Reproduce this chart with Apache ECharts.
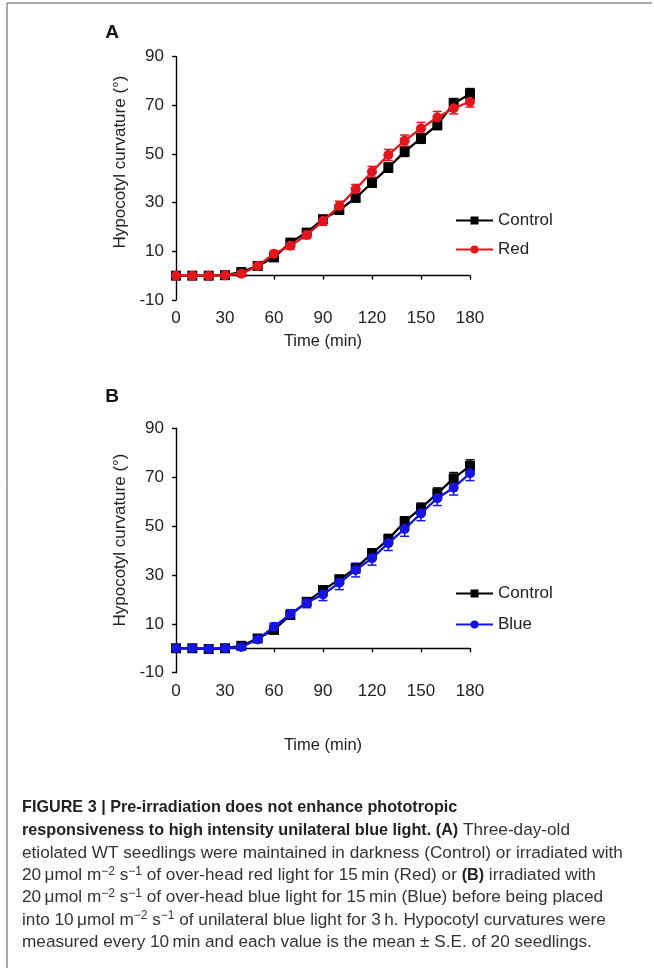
<!DOCTYPE html>
<html><head><meta charset="utf-8">
<script src="https://cdn.jsdelivr.net/npm/echarts@6/dist/echarts.min.js"></script>
<style>html,body{margin:0;padding:0;background:#fff}#c{width:654px;height:968px}</style>
</head><body><div id="c"></div>
<script>
const times = [0,10,20,30,40,50,60,70,80,90,100,110,120,130,140,150,160,170,180];
const xTicks = [0,30,60,90,120,150,180];
const yTicks = [-10,10,30,50,70,90];
// Panel A
const controlA = [0,0,0,0.2,1.5,4,7.5,13.6,17.7,23.2,27,32,38.2,44.4,51,56.4,62,70.8,74.7];
const controlAErr = [0.3,0.3,0.3,0.4,0.6,0.8,1,1.2,1.3,1.5,1.5,1.6,1.8,1.9,2,2,2,2,2.2];
const redA = [0,0,0,0.2,0.8,4,9,12.3,16.7,22.5,28.6,35.5,42.7,49.6,55.5,60.5,65,68.8,71.5];
const redAErr = [0.3,0.3,0.3,0.4,0.6,0.8,1.2,1.5,1.5,1.8,2,2,2.2,2.3,2.3,2.5,2.5,2.3,2.2];
// Panel B
const controlB = [0,0,-0.3,0,1,4,7.5,13.6,19,23.8,28.2,32.7,38.8,44.6,51.8,57.3,63.4,69.5,74.6];
const controlBErr = [0.3,0.3,0.3,0.4,0.6,0.8,1,1.3,1.4,1.6,1.7,1.8,1.9,2,2,2.1,2.2,2.4,2.5];
const blueB = [0,0,-0.3,0,0.5,3.6,8.8,14,18.6,22,26.8,32,36.8,43,48.8,55.2,61.4,65.7,71.6];
const blueBErr = [0.3,0.3,0.3,0.4,0.6,1,1.5,1.8,2,2.5,2.8,2.8,2.8,3,3,3,3,3,3];

const FONT = 'Liberation Sans, Arial, sans-serif';
const TXT = '#222';

function pairs(vals){ return times.map((t,i)=>[t, vals[i]]); }
function errData(vals, errs){ return times.map((t,i)=>[t, vals[i]-errs[i], vals[i]+errs[i]]); }

function errSeries(idx, vals, errs, color){
  return {
    type:'custom', xAxisIndex:idx, yAxisIndex:idx, silent:true, z:2,
    data: errData(vals, errs),
    renderItem: function(params, api){
      const lo = api.coord([api.value(0), api.value(1)]);
      const hi = api.coord([api.value(0), api.value(2)]);
      const w = 4.5;
      const st = {stroke: color, lineWidth: 1.5};
      return {type:'group', children:[
        {type:'line', shape:{x1:lo[0],y1:lo[1],x2:hi[0],y2:hi[1]}, style:st},
        {type:'line', shape:{x1:lo[0]-w,y1:lo[1],x2:lo[0]+w,y2:lo[1]}, style:st},
        {type:'line', shape:{x1:hi[0]-w,y1:hi[1],x2:hi[0]+w,y2:hi[1]}, style:st}
      ]};
    }
  };
}
function lineSeries(idx, name, vals, color, symbol, z){
  return {
    type:'line', name:name, xAxisIndex:idx, yAxisIndex:idx, data:pairs(vals),
    symbol:symbol, symbolSize:10, showSymbol:true, z:z,
    lineStyle:{color:color, width:2.3}, itemStyle:{color:color}, animation:false
  };
}

function xAxis(idx){
  return {type:'value', gridIndex:idx, min:0, max:180, interval:30,
    axisLine:{lineStyle:{color:'#000', width:1.4}},
    axisTick:{show:true, length:4, inside:false, lineStyle:{color:'#000', width:1.4}},
    axisLabel:{color:TXT, fontSize:17, fontFamily:FONT, margin:10},
    splitLine:{show:false}};
}
function yAxis(idx){
  return {type:'value', gridIndex:idx, min:-10, max:90, interval:20,
    axisLine:{show:true, lineStyle:{color:'#000', width:1.4}},
    axisTick:{show:true, length:4, inside:false, lineStyle:{color:'#000', width:1.4}},
    axisLabel:{color:TXT, fontSize:17, fontFamily:FONT, margin:12},
    splitLine:{show:false}};
}

const captionLines = [
  '{b|FIGURE 3 | Pre-irradiation does not enhance phototropic}',
  '{b|responsiveness to high intensity unilateral blue light. (A)}{n| Three-day-old}',
  '{n|etiolated WT seedlings were maintained in darkness (Control) or irradiated with}',
  '{n|20\u2009μmol m}{s|\u22122}{n| s}{s|\u22121}{n| of over-head red light for 15\u2009min (Red) or }{b|(B)}{n| irradiated with}',
  '{n|20\u2009μmol m}{s|\u22122}{n| s}{s|\u22121}{n| of over-head blue light for 15\u2009min (Blue) before being placed}',
  '{n|into 10\u2009μmol m}{s|\u22122}{n| s}{s|\u22121}{n| of unilateral blue light for 3\u2009h. Hypocotyl curvatures were}',
  '{n|measured every 10\u2009min and each value is the mean ± S.E. of 20 seedlings.}'
];
const rich = {
  b:{fontWeight:'bold', fontSize:16.2, fontFamily:FONT, fill:'#222', lineHeight:20},
  n:{fontSize:17.2, fontFamily:FONT, fill:'#333', lineHeight:20},
  s:{fontSize:12, fontFamily:FONT, fill:'#333', lineHeight:20, verticalAlign:'top'}
};

const graphics = [
  {type:'line', shape:{x1:7,y1:3,x2:652,y2:3}, style:{stroke:'#555', lineWidth:1}},
  {type:'line', shape:{x1:7,y1:3,x2:7,y2:968}, style:{stroke:'#555', lineWidth:1}},
  {type:'text', x:112, y:33, style:{text:'A', font:'bold 19px '+FONT, fill:'#111', align:'center', verticalAlign:'middle'}},
  {type:'text', x:112, y:397, style:{text:'B', font:'bold 19px '+FONT, fill:'#111', align:'center', verticalAlign:'middle'}},
  {type:'text', x:120, y:162, rotation:Math.PI/2, style:{text:'Hypocotyl curvature (°)', font:'17px '+FONT, fill:TXT, align:'center', verticalAlign:'middle'}},
  {type:'text', x:120, y:540, rotation:Math.PI/2, style:{text:'Hypocotyl curvature (°)', font:'17px '+FONT, fill:TXT, align:'center', verticalAlign:'middle'}},
  {type:'text', x:323, y:341, style:{text:'Time (min)', font:'16.5px '+FONT, fill:TXT, align:'center', verticalAlign:'middle'}},
  {type:'text', x:323, y:745, style:{text:'Time (min)', font:'16.5px '+FONT, fill:TXT, align:'center', verticalAlign:'middle'}}
];
captionLines.forEach((t,i)=>{
  graphics.push({type:'text', x:22, y:808 + i*22.4, style:{text:t, rich:rich, align:'left', verticalAlign:'middle'}});
});

const chart = echarts.init(document.getElementById('c'), null, {renderer:'canvas'});
chart.setOption({
  animation:false,
  backgroundColor:'#fff',
  grid:[
    {left:176, width:294, top:56.7, height:243.3},
    {left:176, width:294, top:428.3, height:244.4}
  ],
  xAxis:[xAxis(0), xAxis(1)],
  yAxis:[yAxis(0), yAxis(1)],
  legend:[
    {data:['Control','Red'], orient:'vertical', left:450, top:207, itemWidth:37, itemHeight:10, itemGap:12,
      textStyle:{fontSize:17, fontFamily:FONT, color:TXT}, selectedMode:false},
    {data:['Control','Blue'], orient:'vertical', left:450, top:580, itemWidth:37, itemHeight:10, itemGap:14,
      textStyle:{fontSize:17, fontFamily:FONT, color:TXT}, selectedMode:false}
  ],
  series:[
    errSeries(0, controlA, controlAErr, '#000'),
    lineSeries(0, 'Control', controlA, '#000', 'rect', 3),
    errSeries(0, redA, redAErr, '#e8141b'),
    lineSeries(0, 'Red', redA, '#e8141b', 'circle', 4),
    errSeries(1, controlB, controlBErr, '#000'),
    lineSeries(1, 'Control', controlB, '#000', 'rect', 3),
    errSeries(1, blueB, blueBErr, '#1414e6'),
    lineSeries(1, 'Blue', blueB, '#1414e6', 'circle', 4)
  ],
  graphic: graphics
});
</script></body></html>
